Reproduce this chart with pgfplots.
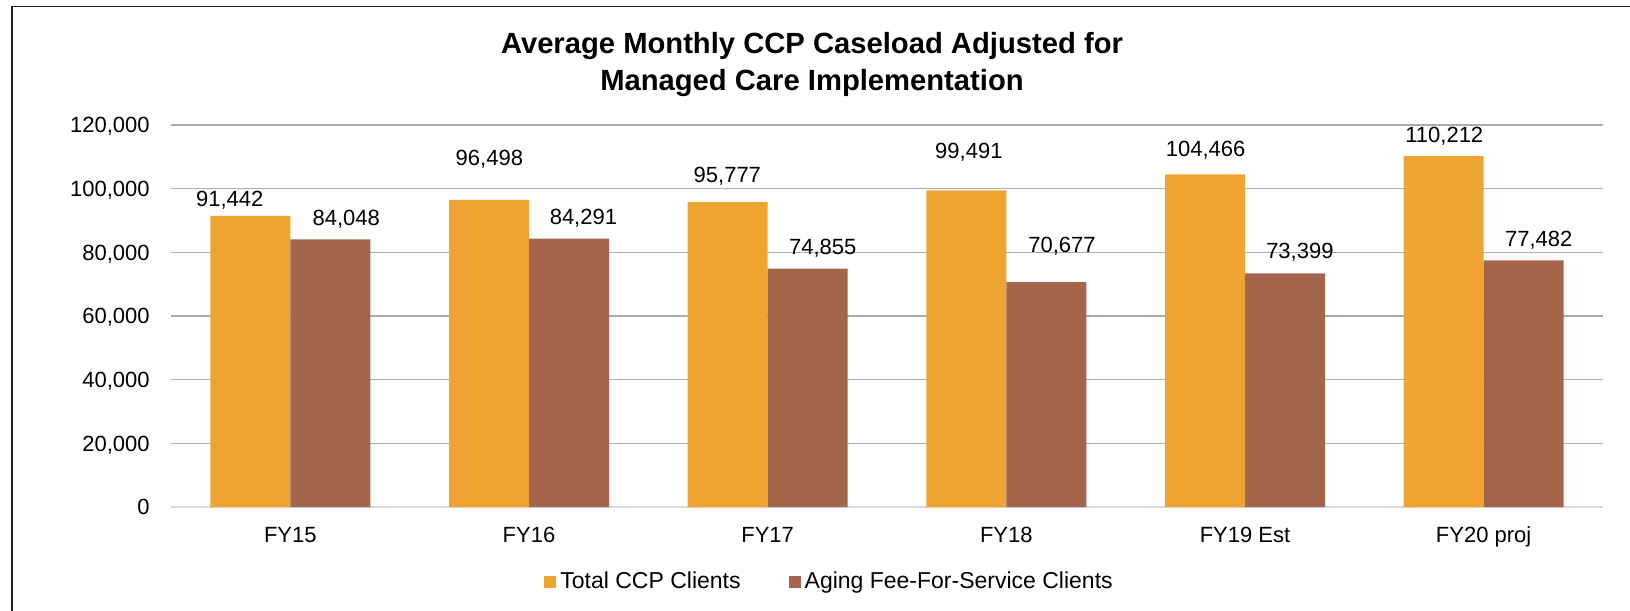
\documentclass[border=0pt]{standalone}
\usepackage{fontspec}
\setmainfont{Liberation Sans}
\usepackage{pgfplots}
\usepackage{pgfplotstable}
\pgfplotsset{compat=1.18}
\definecolor{ccporange}{RGB}{239,163,49}
\definecolor{ccpbrown}{RGB}{165,101,77}
\definecolor{gridgray}{RGB}{172,172,172}
\definecolor{axisgray}{RGB}{217,217,217}
\definecolor{framegray}{RGB}{34,34,34}
\tikzset{lbl/.style={anchor=base, font=\fontsize{11}{13}\selectfont, yshift=-3.9pt, inner sep=0pt}}

\pgfplotstableread{
x total aging
0 91442 84048
1 96498 84291
2 95777 74855
3 99491 70677
4 104466 73399
5 110212 77482
}\datatable

\begin{document}
\begin{tikzpicture}
\useasboundingbox (0pt,0pt) rectangle (815pt,-305.5pt);
\draw[line width=0.9pt, framegray] (6pt,-306pt) -- (6pt,-3.25pt) -- (816pt,-3.25pt);
\node[font=\bfseries\fontsize{14.6}{17}\selectfont, align=center] at (406pt,-32.5pt)
  {Average Monthly CCP Caseload Adjusted for\\[1.5pt]Managed Care Implementation};
\begin{axis}[
  at={(85.5pt,-253.5pt)}, anchor=south west,
  scale only axis, width=716pt, height=191pt,
  xmin=-0.5, xmax=5.5, ymin=0, ymax=120000,
  enlargelimits=false,
  ybar=0pt, bar width=40pt,
  xtick={0,...,5}, xticklabels={FY15,FY16,FY17,FY18,FY19 Est,FY20 proj},
  ytick={0,20000,...,120000},
  scaled y ticks=false,
  /pgf/number format/.cd, fixed, precision=0, 1000 sep={,}, assume math mode=true,
  /pgfplots/.cd,
  ymajorgrids, grid style={gridgray, line width=0.75pt},
  major tick length=0pt,
  axis x line*=bottom, axis y line*=left,
  x axis line style={axisgray, line width=1pt, -},
  y axis line style={draw=none},
  tick label style={font=\fontsize{11}{13}\selectfont, text=black},
  xticklabel style={anchor=base, yshift=-17.5pt},
  yticklabel style={anchor=base east, inner sep=0pt, xshift=-10.5pt, yshift=-3.9pt},
  legend columns=2,
  legend cell align=left,
  legend style={at={(axis description cs:0.2605,-0.196)}, anchor=west, draw=none, fill=none,
    inner sep=0pt, font=\fontsize{11.5}{13}\selectfont,
    /tikz/every even column/.append style={column sep=22pt}},
  legend image code/.code={\fill[#1] (0pt,-3pt) rectangle (6pt,3pt);},
  clip=false,
]
\addplot[fill=ccporange, draw=none] table[x=x,y=total]{\datatable};
\addlegendentry{Total CCP Clients}
\addplot[fill=ccpbrown, draw=none] table[x=x,y=aging]{\datatable};
\addlegendentry{Aging Fee-For-Service Clients}

\node[lbl] at (axis cs:-0.254,96754) {91,442};
\node[lbl] at (axis cs:0.234,91005) {84,048};
\node[lbl] at (axis cs:0.834,109853) {96,498};
\node[lbl] at (axis cs:1.228,91194) {84,291};
\node[lbl] at (axis cs:1.831,104513) {95,777};
\node[lbl] at (axis cs:2.231,81770) {74,855};
\node[lbl] at (axis cs:2.843,111832) {99,491};
\node[lbl] at (axis cs:3.233,82304) {70,677};
\node[lbl] at (axis cs:3.835,112681) {104,466};
\node[lbl] at (axis cs:4.230,80419) {73,399};
\node[lbl] at (axis cs:4.835,116859) {110,212};
\node[lbl] at (axis cs:5.231,84408) {77,482};
\end{axis}
\end{tikzpicture}
\end{document}
